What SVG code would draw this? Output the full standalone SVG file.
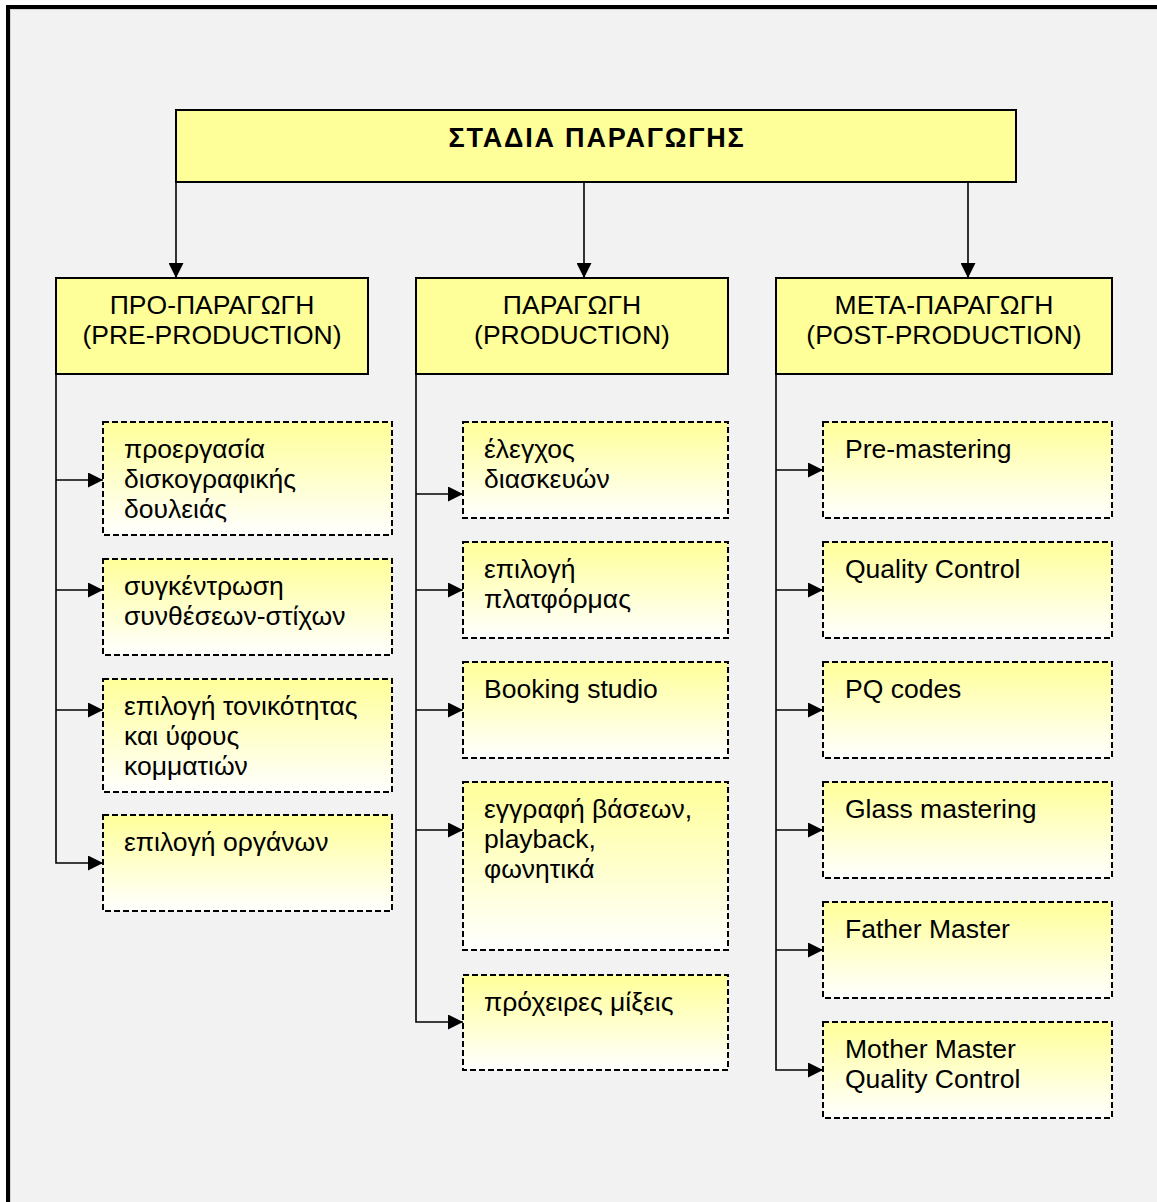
<svg xmlns="http://www.w3.org/2000/svg" width="1157" height="1202" viewBox="0 0 1157 1202">
  <style>
    text { font-family: "Liberation Sans", Arial, sans-serif; font-size: 26.5px; fill: #000; }
    .title { font-weight: bold; font-size: 27px; letter-spacing: 1.8px; text-anchor: middle; }
    .head { text-anchor: middle; }
    .solid { fill: #ffff99; stroke: #000; stroke-width: 2; }
    .dash { fill: url(#fade); stroke: #000; stroke-width: 2; stroke-dasharray: 6 3; }
    .wire { fill: none; stroke: #000; stroke-width: 1.6; marker-end: url(#arrow); }
  </style>
  <defs>
    <linearGradient id="fade" x1="0" y1="0" x2="0" y2="1">
      <stop offset="0" stop-color="#ffff99"/>
      <stop offset="1" stop-color="#ffffff"/>
    </linearGradient>
    <marker id="arrow" markerUnits="userSpaceOnUse" markerWidth="15" markerHeight="15" refX="15" refY="7.5" orient="auto">
      <path d="M0,0 L15,7.5 L0,15 Z" fill="#000"/>
    </marker>
  </defs>

  <!-- page and frame -->
  <rect x="0" y="0" width="1157" height="1202" fill="#ffffff"/>
  <rect x="8" y="7" width="1160" height="1210" fill="#f2f2f2" stroke="#000" stroke-width="4"/>
  <path d="M10.5,1202 V9.5 H1157" fill="none" stroke="#d4d4d4" stroke-width="1"/>

  <!-- connectors -->
  <g id="connectors">
    <path class="wire" d="M176,182 V278"/>
    <path class="wire" d="M584,182 V278"/>
    <path class="wire" d="M968,182 V278"/>

    <path class="wire" d="M56,374 V863 H103"/>
    <path class="wire" d="M56,480 H103"/>
    <path class="wire" d="M56,590 H103"/>
    <path class="wire" d="M56,710 H103"/>

    <path class="wire" d="M416,374 V1022 H463"/>
    <path class="wire" d="M416,494 H463"/>
    <path class="wire" d="M416,590 H463"/>
    <path class="wire" d="M416,710 H463"/>
    <path class="wire" d="M416,830 H463"/>

    <path class="wire" d="M776,374 V1070 H823"/>
    <path class="wire" d="M776,470 H823"/>
    <path class="wire" d="M776,590 H823"/>
    <path class="wire" d="M776,710 H823"/>
    <path class="wire" d="M776,830 H823"/>
    <path class="wire" d="M776,950 H823"/>
  </g>

  <!-- root -->
  <g id="stages">
    <rect class="solid" x="176" y="110" width="840" height="72"/>
    <text class="title" x="597" y="147">ΣΤΑΔΙΑ ΠΑΡΑΓΩΓΗΣ</text>
  </g>

  <!-- column headers -->
  <g id="pre-production">
    <rect class="solid" x="56" y="278" width="312" height="96"/>
    <text class="head" x="212" y="314">ΠΡΟ-ΠΑΡΑΓΩΓΗ</text>
    <text class="head" x="212" y="344">(PRE-PRODUCTION)</text>
  </g>
  <g id="production">
    <rect class="solid" x="416" y="278" width="312" height="96"/>
    <text class="head" x="572" y="314">ΠΑΡΑΓΩΓΗ</text>
    <text class="head" x="572" y="344">(PRODUCTION)</text>
  </g>
  <g id="post-production">
    <rect class="solid" x="776" y="278" width="336" height="96"/>
    <text class="head" x="944" y="314">ΜΕΤΑ-ΠΑΡΑΓΩΓΗ</text>
    <text class="head" x="944" y="344">(POST-PRODUCTION)</text>
  </g>

  <!-- pre-production steps -->
  <g id="pre-1">
    <rect class="dash" x="103" y="422" width="289" height="113"/>
    <text x="124" y="458">προεργασία</text>
    <text x="124" y="488">δισκογραφικής</text>
    <text x="124" y="518">δουλειάς</text>
  </g>
  <g id="pre-2">
    <rect class="dash" x="103" y="559" width="289" height="96"/>
    <text x="124" y="595">συγκέντρωση</text>
    <text x="124" y="625">συνθέσεων-στίχων</text>
  </g>
  <g id="pre-3">
    <rect class="dash" x="103" y="679" width="289" height="113"/>
    <text x="124" y="715">επιλογή τονικότητας</text>
    <text x="124" y="745">και ύφους</text>
    <text x="124" y="775">κομματιών</text>
  </g>
  <g id="pre-4">
    <rect class="dash" x="103" y="815" width="289" height="96"/>
    <text x="124" y="851">επιλογή οργάνων</text>
  </g>

  <!-- production steps -->
  <g id="prod-1">
    <rect class="dash" x="463" y="422" width="265" height="96"/>
    <text x="484" y="458">έλεγχος</text>
    <text x="484" y="488">διασκευών</text>
  </g>
  <g id="prod-2">
    <rect class="dash" x="463" y="542" width="265" height="96"/>
    <text x="484" y="578">επιλογή</text>
    <text x="484" y="608">πλατφόρμας</text>
  </g>
  <g id="prod-3">
    <rect class="dash" x="463" y="662" width="265" height="96"/>
    <text x="484" y="698">Booking studio</text>
  </g>
  <g id="prod-4">
    <rect class="dash" x="463" y="782" width="265" height="168"/>
    <text x="484" y="818">εγγραφή βάσεων,</text>
    <text x="484" y="848">playback,</text>
    <text x="484" y="878">φωνητικά</text>
  </g>
  <g id="prod-5">
    <rect class="dash" x="463" y="975" width="265" height="95"/>
    <text x="484" y="1011">πρόχειρες μίξεις</text>
  </g>

  <!-- post-production steps -->
  <g id="post-1">
    <rect class="dash" x="823" y="422" width="289" height="96"/>
    <text x="845" y="458">Pre-mastering</text>
  </g>
  <g id="post-2">
    <rect class="dash" x="823" y="542" width="289" height="96"/>
    <text x="845" y="578">Quality Control</text>
  </g>
  <g id="post-3">
    <rect class="dash" x="823" y="662" width="289" height="96"/>
    <text x="845" y="698">PQ codes</text>
  </g>
  <g id="post-4">
    <rect class="dash" x="823" y="782" width="289" height="96"/>
    <text x="845" y="818">Glass mastering</text>
  </g>
  <g id="post-5">
    <rect class="dash" x="823" y="902" width="289" height="96"/>
    <text x="845" y="938">Father Master</text>
  </g>
  <g id="post-6">
    <rect class="dash" x="823" y="1022" width="289" height="96"/>
    <text x="845" y="1058">Mother Master</text>
    <text x="845" y="1088">Quality Control</text>
  </g>
</svg>
